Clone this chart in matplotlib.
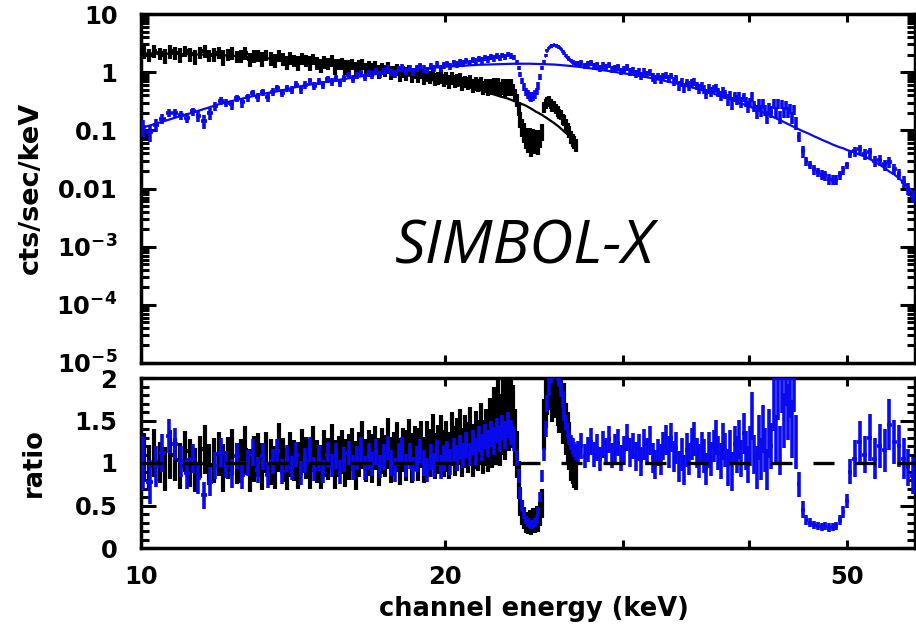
import numpy as np
import matplotlib
matplotlib.use("Agg")
import matplotlib.pyplot as plt
from matplotlib.ticker import (FixedLocator, FixedFormatter, LogLocator,
                               MultipleLocator, NullLocator, NullFormatter)

# ---------------------------------------------------------------- data
black_energy = [
    10.06, 10.19, 10.31, 10.44, 10.56, 10.69, 10.81, 10.94,
    11.06, 11.19, 11.31, 11.44, 11.56, 11.69, 11.81, 11.94,
    12.06, 12.19, 12.31, 12.44, 12.56, 12.69, 12.81, 12.94,
    13.06, 13.19, 13.31, 13.44, 13.56, 13.69, 13.81, 13.94,
    14.06, 14.19, 14.31, 14.44, 14.56, 14.69, 14.81, 14.94,
    15.06, 15.19, 15.31, 15.44, 15.56, 15.69, 15.81, 15.94,
    16.06, 16.19, 16.31, 16.44, 16.56, 16.69, 16.81, 16.94,
    17.06, 17.19, 17.31, 17.44, 17.56, 17.69, 17.81, 17.94,
    18.06, 18.19, 18.31, 18.44, 18.56, 18.69, 18.81, 18.94,
    19.06, 19.19, 19.31, 19.44, 19.56, 19.69, 19.81, 19.94,
    20.06, 20.19, 20.31, 20.44, 20.56, 20.69, 20.81, 20.94,
    21.06, 21.19, 21.31, 21.44, 21.56, 21.69, 21.81, 21.94,
    22.05, 22.15, 22.25, 22.35, 22.45, 22.55, 22.65, 22.75, 22.85, 22.95,
    23.05, 23.15, 23.25, 23.35, 23.45, 23.55, 23.65, 23.75, 23.85, 23.95,
    24.05, 24.15, 24.25, 24.35, 24.45, 24.55, 24.65, 24.75, 24.85, 24.95,
    25.05, 25.15, 25.25, 25.35, 25.45, 25.55, 25.65, 25.75, 25.85, 25.95,
    26.05, 26.15, 26.25, 26.35, 26.45, 26.55, 26.65, 26.75, 26.85, 26.95]
black_model = [
    2.10, 2.09, 2.09, 2.08, 2.08, 2.07, 2.06, 2.06,
    2.05, 2.04, 2.03, 2.02, 2.00, 1.99, 1.97, 1.96,
    1.95, 1.93, 1.91, 1.89, 1.87, 1.85, 1.83, 1.81,
    1.79, 1.77, 1.74, 1.71, 1.69, 1.66, 1.64, 1.61,
    1.59, 1.57, 1.54, 1.52, 1.50, 1.47, 1.45, 1.43,
    1.41, 1.39, 1.36, 1.34, 1.32, 1.29, 1.27, 1.25,
    1.23, 1.21, 1.19, 1.17, 1.15, 1.13, 1.11, 1.09,
    1.06, 1.05, 1.03, 1.01, 0.99, 0.97, 0.95, 0.94,
    0.92, 0.90, 0.88, 0.87, 0.85, 0.83, 0.81, 0.80,
    0.78, 0.76, 0.75, 0.73, 0.72, 0.70, 0.69, 0.67,
    0.66, 0.64, 0.63, 0.62, 0.60, 0.59, 0.58, 0.56,
    0.55, 0.54, 0.52, 0.51, 0.50, 0.49, 0.47, 0.46,
    0.445, 0.435, 0.425, 0.415, 0.405, 0.395, 0.385, 0.375, 0.37, 0.36,
    0.355, 0.345, 0.335, 0.325, 0.315, 0.31, 0.30, 0.29, 0.28, 0.275,
    0.265, 0.255, 0.245, 0.235, 0.225, 0.215, 0.205, 0.20, 0.19, 0.185,
    0.175, 0.168, 0.16, 0.153, 0.146, 0.14, 0.133, 0.126, 0.12, 0.114,
    0.107, 0.101, 0.095, 0.09, 0.085, 0.08, 0.075, 0.07, 0.066, 0.062]
black_ratio = [
    1.08, 0.96, 1.12, 1.01, 0.93, 1.10, 1.04, 0.97,
    1.14, 1.00, 0.92, 1.07, 1.16, 0.98, 1.03, 1.11,
    0.94, 1.06, 1.13, 0.99, 1.02, 1.15, 0.91, 1.05,
    1.09, 0.96, 1.12, 1.01, 0.95, 1.18, 1.04, 0.93,
    1.10, 1.03, 0.97, 1.14, 1.06, 0.99, 1.17, 1.02,
    0.95, 1.11, 1.05, 1.19, 0.98, 1.08, 1.13, 1.00,
    1.07, 1.16, 0.97, 1.10, 1.21, 1.03, 1.12, 1.05,
    1.18, 1.01, 1.14, 1.08, 1.23, 1.04, 1.11, 1.19,
    1.02, 1.15, 1.09, 1.25, 1.06, 1.17, 1.10, 1.22,
    1.04, 1.19, 1.12, 1.27, 1.08, 1.16, 1.24, 1.11,
    1.20, 1.09, 1.28, 1.14, 1.22, 1.31, 1.12, 1.25,
    1.18, 1.33, 1.15, 1.27, 1.21, 1.36, 1.19, 1.30,
    1.22, 1.40, 1.28, 1.52, 1.35, 1.60, 1.30, 1.45, 1.65, 1.38,
    1.75, 1.50, 1.85, 1.55, 1.30, 1.10, 0.80, 0.55, 0.42, 0.35,
    0.30, 0.28, 0.32, 0.27, 0.34, 0.30, 0.36, 0.31, 0.40, 0.52,
    1.45, 1.75, 1.95, 2.10, 2.00, 1.85, 2.05, 1.90, 1.80, 1.70,
    1.75, 1.55, 1.60, 1.40, 1.30, 1.20, 1.05, 1.00, 0.95, 0.92]
black_ratio_err = [
    0.27, 0.25, 0.28, 0.24, 0.26, 0.29, 0.25, 0.27,
    0.24, 0.28, 0.26, 0.25, 0.29, 0.24, 0.27, 0.26,
    0.28, 0.25, 0.27, 0.24, 0.26, 0.29, 0.25, 0.27,
    0.26, 0.28, 0.24, 0.27, 0.25, 0.29, 0.26, 0.25,
    0.27, 0.24, 0.28, 0.26, 0.25, 0.29, 0.27, 0.25,
    0.26, 0.28, 0.25, 0.27, 0.29, 0.24, 0.26, 0.28,
    0.27, 0.25, 0.29, 0.26, 0.28, 0.25, 0.27, 0.29,
    0.26, 0.28, 0.27, 0.25, 0.30, 0.27, 0.26, 0.29,
    0.28, 0.26, 0.30, 0.27, 0.29, 0.26, 0.31, 0.28,
    0.27, 0.30, 0.28, 0.31, 0.27, 0.29, 0.32, 0.28,
    0.30, 0.28, 0.32, 0.29, 0.31, 0.33, 0.29, 0.31,
    0.30, 0.33, 0.31, 0.34, 0.30, 0.35, 0.32, 0.34,
    0.33, 0.36, 0.34, 0.37, 0.35, 0.38, 0.34, 0.36, 0.38, 0.35,
    0.38, 0.36, 0.40, 0.37, 0.33, 0.28, 0.22, 0.17, 0.15, 0.13,
    0.12, 0.12, 0.13, 0.12, 0.13, 0.12, 0.13, 0.12, 0.14, 0.17,
    0.30, 0.34, 0.38, 0.40, 0.38, 0.37, 0.39, 0.37, 0.36, 0.35,
    0.36, 0.33, 0.34, 0.31, 0.30, 0.28, 0.26, 0.25, 0.24, 0.24]

blue_energy = [
    10.05, 10.20, 10.35, 10.50, 10.65, 10.80, 10.95,
    11.10, 11.25, 11.40, 11.55, 11.70, 11.85,
    12.00, 12.15, 12.30, 12.45, 12.60, 12.75, 12.90,
    13.05, 13.20, 13.35, 13.50, 13.65, 13.80, 13.95,
    14.10, 14.25, 14.40, 14.55, 14.70, 14.85,
    15.00, 15.15, 15.30, 15.45, 15.60, 15.75, 15.90,
    16.05, 16.20, 16.35, 16.50, 16.65, 16.80, 16.95,
    17.10, 17.25, 17.40, 17.55, 17.70, 17.85,
    18.00, 18.15, 18.30, 18.45, 18.60, 18.75, 18.90,
    19.05, 19.20, 19.35, 19.50, 19.65, 19.80, 19.95,
    20.10, 20.25, 20.40, 20.55, 20.70, 20.85,
    21.00, 21.15, 21.30, 21.45, 21.60, 21.75, 21.90,
    22.05, 22.20, 22.35, 22.50, 22.65, 22.80, 22.95,
    23.10, 23.25, 23.40,
    23.55, 23.65, 23.75, 23.85, 23.95, 24.05, 24.15, 24.25, 24.35, 24.45,
    24.55, 24.65, 24.75, 24.85, 24.95, 25.05, 25.15, 25.25, 25.35, 25.45,
    25.55, 25.65, 25.75, 25.85, 25.95, 26.05, 26.15, 26.25, 26.35, 26.45,
    26.55, 26.65, 26.75, 26.85, 26.95,
    27.1, 27.3, 27.5, 27.7, 27.9, 28.1, 28.3, 28.5, 28.7, 28.9,
    29.1, 29.3, 29.5, 29.7, 29.9, 30.1, 30.3, 30.5, 30.7, 30.9,
    31.1, 31.3, 31.5, 31.7, 31.9, 32.1, 32.3, 32.5, 32.7, 32.9,
    33.1, 33.3, 33.5, 33.7, 33.9, 34.1, 34.3, 34.5, 34.7, 34.9,
    35.1, 35.3, 35.5, 35.7, 35.9, 36.1, 36.3, 36.5, 36.7, 36.9,
    37.1, 37.3, 37.5, 37.7, 37.9, 38.1, 38.3, 38.5, 38.7, 38.9,
    39.1, 39.3, 39.5, 39.7, 39.9, 40.1, 40.3, 40.5, 40.7, 40.9,
    41.1, 41.3, 41.5, 41.7, 41.9, 42.1, 42.3, 42.5, 42.7, 42.9,
    43.1, 43.3, 43.5, 43.7, 43.9, 44.1, 44.3, 44.5,
    44.8, 45.2, 45.6, 46.0, 46.4, 46.8, 47.2, 47.6, 48.0, 48.4,
    48.8, 49.2, 49.6, 50.0, 50.4,
    50.9, 51.5, 52.1, 52.7, 53.3, 53.9, 54.5, 55.1, 55.7, 56.3,
    56.9, 57.5, 58.1]
blue_model = [
    0.112, 0.121, 0.130, 0.141, 0.152, 0.164, 0.177,
    0.188, 0.202, 0.217, 0.233, 0.250, 0.268,
    0.290, 0.304, 0.319, 0.335, 0.351, 0.368, 0.386,
    0.405, 0.42, 0.44, 0.455, 0.47, 0.49, 0.505,
    0.535, 0.555, 0.575, 0.595, 0.61, 0.63,
    0.65, 0.67, 0.69, 0.705, 0.725, 0.745, 0.76,
    0.785, 0.805, 0.825, 0.845, 0.865, 0.885, 0.91,
    0.935, 0.95, 0.97, 0.99, 1.005, 1.025,
    1.04, 1.055, 1.07, 1.09, 1.105, 1.12, 1.135,
    1.155, 1.17, 1.18, 1.19, 1.205, 1.22, 1.235,
    1.245, 1.255, 1.265, 1.275, 1.29, 1.30,
    1.31, 1.315, 1.32, 1.33, 1.34, 1.345, 1.355,
    1.36, 1.365, 1.37, 1.375, 1.38, 1.385, 1.39,
    1.392, 1.394, 1.396,
    1.397, 1.398, 1.40, 1.40, 1.40, 1.40, 1.40, 1.398, 1.395, 1.392,
    1.39, 1.387, 1.385, 1.382, 1.38, 1.377, 1.375, 1.372, 1.37, 1.365,
    1.36, 1.352, 1.345, 1.34, 1.335, 1.327, 1.32, 1.31, 1.30, 1.292,
    1.285, 1.275, 1.265, 1.257, 1.25,
    1.24, 1.22, 1.20, 1.18, 1.16, 1.14, 1.12, 1.10, 1.08, 1.06,
    1.04, 1.02, 1.005, 0.985, 0.97, 0.95, 0.935, 0.92, 0.90, 0.885,
    0.865, 0.85, 0.83, 0.815, 0.80, 0.78, 0.765, 0.75, 0.735, 0.72,
    0.70, 0.685, 0.67, 0.655, 0.64, 0.62, 0.605, 0.59, 0.575, 0.56,
    0.548, 0.535, 0.52, 0.505, 0.492, 0.478, 0.465, 0.452, 0.44, 0.427,
    0.414, 0.402, 0.39, 0.378, 0.366, 0.354, 0.343, 0.332, 0.321, 0.31,
    0.30, 0.29, 0.28, 0.272, 0.263, 0.254, 0.245, 0.236, 0.228, 0.22,
    0.211, 0.204, 0.196, 0.189, 0.182, 0.175, 0.169, 0.162, 0.156, 0.15,
    0.145, 0.139, 0.134, 0.129, 0.124, 0.119, 0.115, 0.11,
    0.104, 0.097, 0.091, 0.085, 0.079, 0.074, 0.069, 0.065, 0.061, 0.057,
    0.054, 0.051, 0.049, 0.046, 0.044,
    0.0415, 0.038, 0.0355, 0.032, 0.0285, 0.0255, 0.0225, 0.0195, 0.0175,
    0.015, 0.0125, 0.0105, 0.0088]
blue_ratio = [
    1.00, 0.78, 0.96, 1.12, 1.32, 1.22, 1.02,
    0.88, 1.05, 0.82, 0.62, 0.78, 0.97,
    1.12, 0.98, 0.88, 1.08, 0.86, 1.00, 1.12,
    0.92, 1.08, 0.86, 1.02, 1.14, 0.90, 1.05,
    0.94, 1.10, 0.88, 1.03, 1.15, 0.93,
    1.06, 0.90, 1.10, 0.97, 1.08, 0.89, 1.04,
    1.12, 0.95, 1.06, 1.16, 0.94, 1.08, 0.99,
    1.13, 0.96, 1.07, 1.18, 1.00, 0.92,
    1.10, 1.16, 0.97, 1.08, 0.93, 1.05, 1.14,
    1.00, 0.92, 1.07, 0.98, 1.12, 0.95, 1.06,
    1.12, 1.01, 1.16, 1.06, 1.19, 1.09,
    1.21, 1.10, 1.24, 1.14, 1.28, 1.18, 1.31,
    1.23, 1.34, 1.26, 1.38, 1.29, 1.42, 1.33,
    1.45, 1.36, 1.28,
    1.05, 0.85, 0.65, 0.50, 0.40, 0.33, 0.30, 0.28, 0.27, 0.28,
    0.30, 0.34, 0.42, 0.60, 0.85, 1.10, 1.40, 1.70, 1.90, 2.05,
    2.10, 2.15, 2.12, 2.08, 2.00, 1.88, 1.75, 1.60, 1.48, 1.38,
    1.30, 1.24, 1.20, 1.16, 1.13,
    1.12, 1.20, 1.08, 1.16, 1.25, 1.10, 1.18, 1.05, 1.22, 1.14,
    1.28, 1.09, 1.17, 1.24, 1.06, 1.15, 1.30, 1.12, 1.20, 1.08,
    1.18, 1.02, 1.22, 1.14, 1.26, 1.06, 0.98, 1.12, 1.04, 1.20,
    1.27, 1.13, 1.30, 1.08, 1.18, 0.96, 1.10, 0.92, 1.15, 1.05,
    1.22, 1.28, 1.12, 1.02, 1.18, 1.08, 0.93, 1.15, 1.05, 1.20,
    1.30, 1.12, 1.02, 1.25, 1.15, 0.95, 1.18, 0.90, 1.22, 1.10,
    1.28, 1.05, 1.35, 1.15, 0.98, 1.20, 1.55, 1.10, 0.95, 1.30,
    1.05, 1.40, 1.15, 0.92, 1.35, 1.20, 1.70, 1.28, 1.85, 1.15,
    1.95, 1.50, 2.05, 1.60, 1.90, 1.40, 2.00, 1.25,
    0.75, 0.45, 0.33, 0.30, 0.27, 0.26, 0.25, 0.26, 0.24, 0.25,
    0.26, 0.33, 0.42, 0.55, 0.90,
    1.05, 1.25, 1.10, 1.30, 1.05, 1.20, 1.15, 1.45, 1.25, 1.20,
    1.05, 0.95, 0.85]
blue_ratio_err = [
    0.32, 0.26, 0.24, 0.22, 0.20, 0.19, 0.18,
    0.18, 0.17, 0.18, 0.16, 0.17, 0.16,
    0.17, 0.16, 0.17, 0.15, 0.16, 0.15, 0.16,
    0.15, 0.16, 0.15, 0.15, 0.14, 0.15, 0.16,
    0.14, 0.15, 0.14, 0.15, 0.16, 0.14,
    0.15, 0.14, 0.15, 0.14, 0.15, 0.14, 0.15,
    0.14, 0.15, 0.14, 0.15, 0.14, 0.15, 0.14,
    0.15, 0.14, 0.15, 0.14, 0.15, 0.14,
    0.14, 0.15, 0.14, 0.15, 0.14, 0.15, 0.14,
    0.15, 0.14, 0.15, 0.14, 0.15, 0.14, 0.15,
    0.14, 0.15, 0.14, 0.15, 0.14, 0.15,
    0.15, 0.14, 0.15, 0.16, 0.15, 0.16, 0.15,
    0.16, 0.15, 0.16, 0.15, 0.16, 0.15, 0.16,
    0.15, 0.15, 0.14,
    0.09, 0.08, 0.07, 0.06, 0.06, 0.05, 0.05, 0.05, 0.05, 0.05,
    0.05, 0.05, 0.06, 0.06, 0.07, 0.08, 0.09, 0.10, 0.10, 0.11,
    0.11, 0.11, 0.11, 0.11, 0.11, 0.10, 0.10, 0.10, 0.09, 0.09,
    0.09, 0.09, 0.09, 0.09, 0.09,
    0.14, 0.15, 0.14, 0.15, 0.16, 0.15, 0.16, 0.14, 0.16, 0.15,
    0.16, 0.15, 0.17, 0.16, 0.15, 0.17, 0.16, 0.17, 0.15, 0.17,
    0.16, 0.17, 0.18, 0.16, 0.17, 0.18, 0.17, 0.16, 0.18, 0.17,
    0.18, 0.19, 0.17, 0.18, 0.19, 0.18, 0.19, 0.18, 0.20, 0.19,
    0.19, 0.20, 0.18, 0.20, 0.19, 0.20, 0.19, 0.21, 0.20, 0.19,
    0.21, 0.20, 0.21, 0.22, 0.20, 0.22, 0.21, 0.23, 0.21, 0.22,
    0.23, 0.22, 0.24, 0.23, 0.22, 0.24, 0.28, 0.23, 0.25, 0.27,
    0.25, 0.28, 0.26, 0.24, 0.29, 0.27, 0.32, 0.28, 0.34, 0.29,
    0.36, 0.32, 0.38, 0.33, 0.37, 0.34, 0.40, 0.32,
    0.15, 0.10, 0.06, 0.05, 0.05, 0.05, 0.05, 0.05, 0.05, 0.05,
    0.05, 0.06, 0.07, 0.08, 0.15,
    0.22, 0.25, 0.22, 0.28, 0.24, 0.26, 0.25, 0.30, 0.26, 0.25,
    0.24, 0.22, 0.22]

x_range = (10.0, 58.4)
x_ticks = [10, 20, 30, 40, 50]
x_tick_labels = ["10", "20", "", "", "50"]
top_y_range = (1e-5, 10.0)
top_y_ticks = [1e-5, 1e-4, 1e-3, 0.01, 0.1, 1, 10]
top_y_tick_labels = [r"$\mathbf{10^{-5}}$", r"$\mathbf{10^{-4}}$",
                     r"$\mathbf{10^{-3}}$", "0.01", "0.1", "1", "10"]
ratio_range = (0.0, 2.0)
ratio_ticks = [0, 0.5, 1, 1.5, 2]
ratio_tick_labels = ["0", "0.5", "1", "1.5", "2"]
ratio_reference = 1.0
annotation = "SIMBOL-X"

# ---------------------------------------------------------------- styling
plt.rcParams["mathtext.fontset"] = "dejavusans"
BLACK = "#000000"
BLUE = "#0a0af0"
W, H = 916, 630

fig = plt.figure(figsize=(W / 100, H / 100), dpi=100)
L, R = 141, 915
ax1 = fig.add_axes([L / W, 1 - 363 / H, (R - L) / W, (363 - 14) / H])
ax2 = fig.add_axes([L / W, 1 - 548 / H, (R - L) / W, (548 - 378) / H])


def series(energy, model, ratio, rerr):
    e = np.asarray(energy, float)
    m = np.asarray(model, float)
    r = np.asarray(ratio, float)
    re = np.asarray(rerr, float)
    hw = np.gradient(e) / 2.0
    return e, m, r, re, hw


be, bm, br, bre, bhw = series(black_energy, black_model, black_ratio, black_ratio_err)
ue, um, ur, ure, uhw = series(blue_energy, blue_model, blue_ratio, blue_ratio_err)

elw_black = 3.0
elw_blue = 2.6
# top panel: counts = model * ratio
ax1.errorbar(be, bm * br, xerr=bhw, yerr=bm * bre, fmt="none", ecolor=BLACK,
             elinewidth=elw_black, capsize=0, zorder=2)
ax1.plot(be, bm, color=BLACK, lw=1.6, zorder=2.5)
ax1.errorbar(ue, um * ur, xerr=uhw, yerr=um * ure, fmt="none", ecolor=BLUE,
             elinewidth=elw_blue, capsize=0, zorder=3)
ax1.plot(ue, um, color=BLUE, lw=1.6, zorder=3.5)

# ratio panel
ax2.errorbar(be, br, xerr=bhw, yerr=bre, fmt="none", ecolor=BLACK,
             elinewidth=elw_black, capsize=0, zorder=2)
ax2.errorbar(ue, ur, xerr=uhw, yerr=ure, fmt="none", ecolor=BLUE,
             elinewidth=elw_blue, capsize=0, zorder=3)
ax2.axhline(ratio_reference, color=BLACK, lw=2.4, dashes=(6.3, 6.3), zorder=4)

# scales / locators / formatters
ax1.set_yscale("log")
for ax in (ax1, ax2):
    ax.set_xscale("log")
    ax.set_xlim(*x_range)
    ax.xaxis.set_major_locator(FixedLocator(x_ticks))
    ax.xaxis.set_minor_locator(NullLocator())
    ax.xaxis.set_minor_formatter(NullFormatter())

ax1.set_ylim(*top_y_range)
ax1.yaxis.set_major_locator(FixedLocator(top_y_ticks))
ax1.yaxis.set_major_formatter(FixedFormatter(top_y_tick_labels))
ax1.yaxis.set_minor_locator(LogLocator(base=10, subs=np.arange(2, 10)))
ax1.yaxis.set_minor_formatter(NullFormatter())
ax1.xaxis.set_major_formatter(NullFormatter())

ax2.set_ylim(*ratio_range)
ax2.yaxis.set_major_locator(FixedLocator(ratio_ticks))
ax2.yaxis.set_major_formatter(FixedFormatter(ratio_tick_labels))
ax2.yaxis.set_minor_locator(MultipleLocator(0.1))
ax2.xaxis.set_major_formatter(FixedFormatter(x_tick_labels))

# tick appearance (applied last)
for ax in (ax1, ax2):
    for sp in ax.spines.values():
        sp.set_linewidth(2.5)
    ax.tick_params(axis="both", which="both", direction="in", top=True,
                   right=True, width=2.2, labelsize=17.5)
    ax.tick_params(axis="x", which="major", length=6, pad=12)
    ax.tick_params(axis="y", which="major", length=11, pad=17)
    ax.tick_params(axis="y", which="minor", length=5.5)

ax1.text(0.496, 0.2865, annotation, transform=ax1.transAxes, ha="center",
         va="baseline", fontsize=44, style="italic", family="Open Sans",
         zorder=5)

fig.text(31 / W, 1 - 188 / H, "cts/sec/keV", rotation=90, ha="center",
         va="center", fontsize=19.5, fontweight="bold")
fig.text(34 / W, 1 - 463 / H, "ratio", rotation=90, ha="center",
         va="center", fontsize=18.5, fontweight="bold")
fig.text(534 / W, 1 - 609 / H, "channel energy (keV)", ha="center",
         va="center", fontsize=18.5, fontweight="bold")

fig.canvas.draw()
for ax in (ax1, ax2):
    for lab in ax.get_yticklabels() + ax.get_xticklabels():
        lab.set_fontweight("bold")

fig.savefig("out.png", dpi=100)
